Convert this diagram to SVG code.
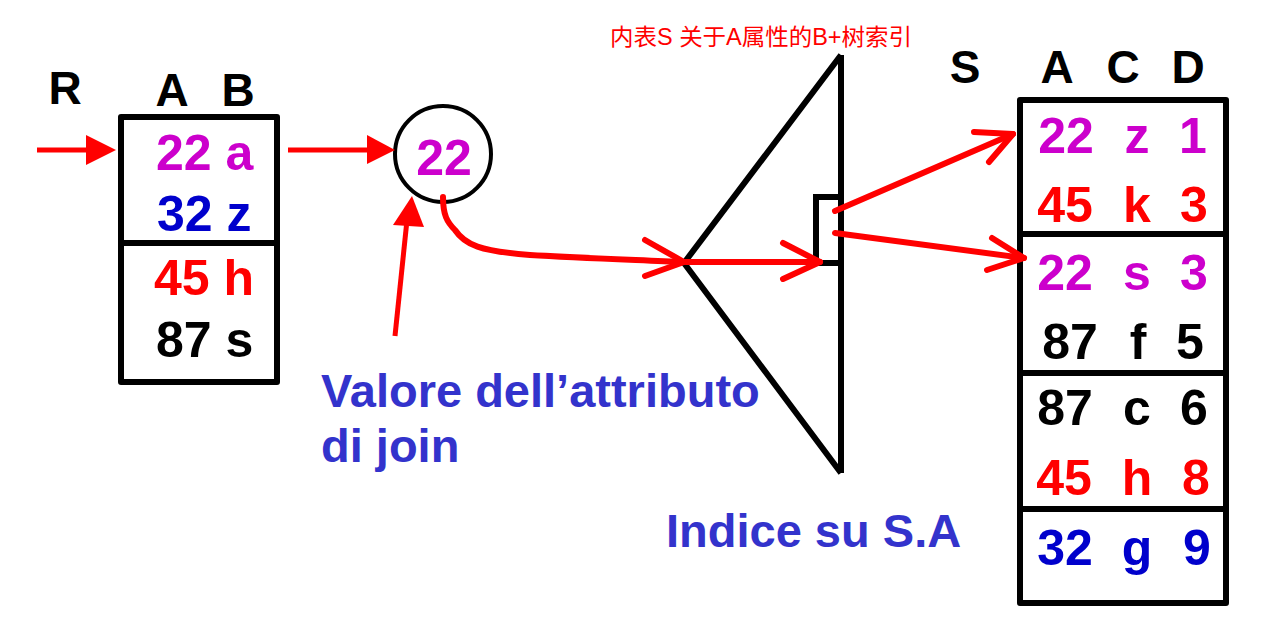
<svg xmlns="http://www.w3.org/2000/svg" width="1288" height="624" viewBox="0 0 1288 624">
<style>
text{font-family:"Liberation Sans",Arial,sans-serif;font-weight:bold}
.big{font-size:50px}
.hdr{font-size:46px;fill:#000}
.m{fill:#cc00cc}.b{fill:#0000cc}.r{fill:#ff0000}.k{fill:#000}
.lbl{font-size:47px;fill:#3333cc}
.box{fill:none;stroke:#000;stroke-width:6;stroke-linejoin:round}
.ln{stroke:#000;stroke-width:6;fill:none}
.red{stroke:#ff0000;stroke-width:6;fill:none;stroke-linecap:round;stroke-linejoin:round}
.redf{stroke:#ff0000;stroke-width:5;fill:none}
.cn{font-family:"Liberation Sans","Noto Sans CJK SC",sans-serif;font-weight:normal;font-size:23px;fill:#ff0000}
.mid{text-anchor:middle}
</style>
<rect width="1288" height="624" fill="#fff"/>
<g id="tableR">
<text class="hdr" x="65" y="104" text-anchor="middle">R</text>
<text class="hdr" x="172" y="106" text-anchor="middle">A</text>
<text class="hdr" x="238" y="106" text-anchor="middle">B</text>
<rect class="box" x="121" y="117" width="156" height="265"/>
<line class="ln" x1="121" y1="243" x2="277" y2="243"/>
<text class="big m" x="156" y="170">22 a</text>
<text class="big b" x="157" y="231">32 z</text>
<text class="big r" x="154" y="295">45 h</text>
<text class="big k" x="156" y="357">87 s</text>
</g>
<g id="circle22">
<circle cx="443" cy="154" r="48" fill="none" stroke="#000" stroke-width="4"/>
<text class="big m" x="444" y="175" text-anchor="middle">22</text>
</g>
<g id="index">
<polyline class="ln" points="841,55 684,263 841,473" stroke-linejoin="round"/>
<line class="ln" x1="841" y1="55" x2="841" y2="473"/>
<polyline class="ln" points="841,197 816,197 816,263 841,263" stroke-width="5"/>
<text class="cn" x="610" y="45" textLength="302" lengthAdjust="spacingAndGlyphs">内表S 关于A属性的B+树索引</text>
<text class="lbl" x="666" y="547">Indice su S.A</text>
</g>
<g id="label">
<text class="lbl" x="321" y="407">Valore dell’attributo</text>
<text class="lbl" x="321" y="462">di join</text>
</g>
<g id="tableS">
<text class="hdr" x="965" y="83" text-anchor="middle">S</text>
<text class="hdr" x="1057" y="83" text-anchor="middle">A</text>
<text class="hdr" x="1123" y="83" text-anchor="middle">C</text>
<text class="hdr" x="1188" y="83" text-anchor="middle">D</text>
<rect class="box" x="1020" y="100" width="206" height="503"/>
<line class="ln" x1="1020" y1="234" x2="1226" y2="234"/>
<line class="ln" x1="1020" y1="373" x2="1226" y2="373"/>
<line class="ln" x1="1020" y1="509" x2="1226" y2="509"/>
<g class="big">
<text class="m mid" x="1066" y="153">22</text><text class="m mid" x="1137" y="153">z</text><text class="m mid" x="1193" y="153">1</text>
<text class="r mid" x="1065" y="222">45</text><text class="r mid" x="1137" y="222">k</text><text class="r mid" x="1194" y="222">3</text>
<text class="m mid" x="1065" y="290">22</text><text class="m mid" x="1137" y="290">s</text><text class="m mid" x="1194" y="290">3</text>
<text class="k mid" x="1070" y="359">87</text><text class="k mid" x="1138" y="359">f</text><text class="k mid" x="1190" y="359">5</text>
<text class="k mid" x="1065" y="425">87</text><text class="k mid" x="1137" y="425">c</text><text class="k mid" x="1194" y="425">6</text>
<text class="r mid" x="1064" y="495">45</text><text class="r mid" x="1137" y="495">h</text><text class="r mid" x="1196" y="495">8</text>
<text class="b mid" x="1065" y="565">32</text><text class="b mid" x="1137" y="565">g</text><text class="b mid" x="1197" y="565">9</text>
</g>
</g>
<g id="connectors">
<line class="redf" x1="37" y1="150" x2="90" y2="150"/>
<polygon points="116,150 86,135 86,165" fill="#ff0000"/>
<line class="redf" x1="288" y1="150" x2="370" y2="150"/>
<polygon points="395,150 367,135 367,164" fill="#ff0000"/>
<line class="redf" x1="395" y1="336" x2="407" y2="220"/>
<polygon points="412,196 393,225 424,227" fill="#ff0000"/>
<path class="red" d="M443,197 C443,215 447,222 455,230 C465,245 480,251 530,255 C580,258 640,260 683,262"/>
<polyline class="red" points="645,240 684,262 645,276"/>
<line class="red" x1="686" y1="262" x2="820" y2="262"/>
<polyline class="red" points="783,243 820,262 783,279"/>
<path class="red" d="M835,211 L1013,134" stroke-linecap="butt"/>
<polyline class="red" points="974,132 1013,134 989,162"/>
<path class="red" d="M835,233 L1024,258" stroke-linecap="butt"/>
<polyline class="red" points="992,238 1024,258 987,270"/>
</g>
</svg>
